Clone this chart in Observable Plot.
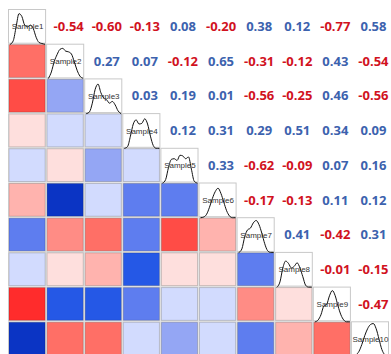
<!DOCTYPE html>
<html><head><meta charset="utf-8">
<script src="https://cdn.jsdelivr.net/npm/d3@7"></script>
<script src="https://cdn.jsdelivr.net/npm/@observablehq/plot@0.6"></script>
<style>html,body{margin:0;padding:0;background:#fff;overflow:hidden}</style>
</head><body><div id="chart"></div>
<script>
const samples = ["Sample1","Sample2","Sample3","Sample4","Sample5","Sample6","Sample7","Sample8","Sample9","Sample10"];

// Upper-triangle correlations, row i, columns i+1..10
const corrRows = [
  [-0.54, -0.60, -0.13, 0.08, -0.20, 0.38, 0.12, -0.77, 0.58],
  [0.27, 0.07, -0.12, 0.65, -0.31, -0.12, 0.43, -0.54],
  [0.03, 0.19, 0.01, -0.56, -0.25, 0.46, -0.56],
  [0.12, 0.31, 0.29, 0.51, 0.34, 0.09],
  [0.33, -0.62, -0.09, 0.07, 0.16],
  [-0.17, -0.13, 0.11, 0.12],
  [0.41, -0.42, 0.31],
  [-0.01, -0.15],
  [-0.47]
];

// Density shapes (relative heights)
const densityX = [0.05, 0.125, 0.2, 0.275, 0.35, 0.425, 0.5, 0.575, 0.65, 0.725, 0.8, 0.875, 0.95];
const densities = [
  [0.0, 0.1, 0.5, 0.88, 0.8, 0.55, 0.5, 0.55, 0.45, 0.2, 0.05, 0.02, 0.0],
  [0.02, 0.2, 0.5, 0.7, 0.85, 0.88, 0.8, 0.78, 0.72, 0.5, 0.25, 0.08, 0.02],
  [0.0, 0.05, 0.3, 0.7, 0.85, 0.6, 0.45, 0.4, 0.3, 0.35, 0.25, 0.08, 0.0],
  [0.0, 0.05, 0.35, 0.7, 0.82, 0.7, 0.72, 0.85, 0.7, 0.35, 0.08, 0.0, 0.0],
  [0.0, 0.1, 0.45, 0.68, 0.7, 0.65, 0.8, 0.78, 0.7, 0.75, 0.4, 0.05, 0.0],
  [0.0, 0.02, 0.1, 0.3, 0.55, 0.75, 0.85, 0.7, 0.45, 0.2, 0.05, 0.0, 0.0],
  [0.0, 0.1, 0.45, 0.65, 0.7, 0.85, 0.92, 0.8, 0.55, 0.25, 0.05, 0.0, 0.0],
  [0.0, 0.15, 0.55, 0.75, 0.68, 0.55, 0.6, 0.7, 0.55, 0.3, 0.05, 0.0, 0.0],
  [0.0, 0.05, 0.2, 0.45, 0.5, 0.75, 0.9, 0.75, 0.45, 0.2, 0.05, 0.0, 0.0],
  [0.0, 0.05, 0.15, 0.35, 0.6, 0.8, 0.92, 0.95, 0.8, 0.5, 0.2, 0.05, 0.0]
];

const colorBreaks = [-0.857, -0.714, -0.571, -0.429, -0.286, -0.143, 0, 0.143, 0.286, 0.429, 0.571, 0.714, 0.857];
const colorRange = ["#e00000", "#ff2c2c", "#ff4c46", "#ff6f66", "#ff8c85", "#ffb3ae", "#fedfdd",
                    "#d2dbfe", "#94a6f4", "#5e7def", "#2558e6", "#0b34c4", "#0624a0", "#041a80"];

const upper = [], lower = [];
corrRows.forEach((vals, i) => vals.forEach((r, k) => {
  const j = i + k + 1;
  upper.push({row: i, col: j, r});
  lower.push({row: j, col: i, r});
}));
const diag = samples.map((name, i) => ({i, name}));
const densPts = [];
densities.forEach((ys, i) => ys.forEach((v, k) => densPts.push({s: i, x: i + densityX[k], y: i + 1 - v})));

const plot = Plot.plot({
  width: 391, height: 354,
  marginTop: 0, marginBottom: 0, marginLeft: 0, marginRight: 0,
  x: {domain: [0, 10], range: [8, 389], axis: null},
  y: {domain: [0, 10], range: [9, 356], axis: null},
  color: {type: "threshold", domain: colorBreaks, range: colorRange},
  marks: [
    Plot.rect(lower, {x1: d => d.col, x2: d => d.col + 1, y1: d => d.row, y2: d => d.row + 1, fill: "#dadada"}),
    Plot.rect(lower, {x1: d => d.col, x2: d => d.col + 1, y1: d => d.row, y2: d => d.row + 1, fill: "r", stroke: "#000", strokeOpacity: 0.15, strokeWidth: 1, inset: 1}),
    Plot.rect(diag, {x1: d => d.i, x2: d => d.i + 1, y1: d => d.i, y2: d => d.i + 1, fill: "white", stroke: "#c8c8c8", strokeWidth: 1, inset: 0.5}),
    Plot.line(densPts, {x: "x", y: "y", z: "s", stroke: "#111", strokeWidth: 1, curve: "monotone-x"}),
    Plot.text(diag, {x: d => d.i + 0.5, y: d => d.i + 0.5, text: "name", fontSize: 8, fill: "#333", fontFamily: "Liberation Sans, Arial, sans-serif"}),
    Plot.text(upper.filter(d => d.r < 0), {x: d => d.col + 0.5, y: d => d.row + 0.5, text: d => d.r.toFixed(2), dx: 3, fill: "#d1121e", fontSize: 13, fontWeight: 700, fontFamily: "Open Sans, sans-serif"}),
    Plot.text(upper.filter(d => d.r >= 0), {x: d => d.col + 0.5, y: d => d.row + 0.5, text: d => d.r.toFixed(2), dx: 3, fill: "#3c62ae", fontSize: 13, fontWeight: 700, fontFamily: "Open Sans, sans-serif"})
  ]
});
document.getElementById("chart").appendChild(plot);
</script>
</body></html>
